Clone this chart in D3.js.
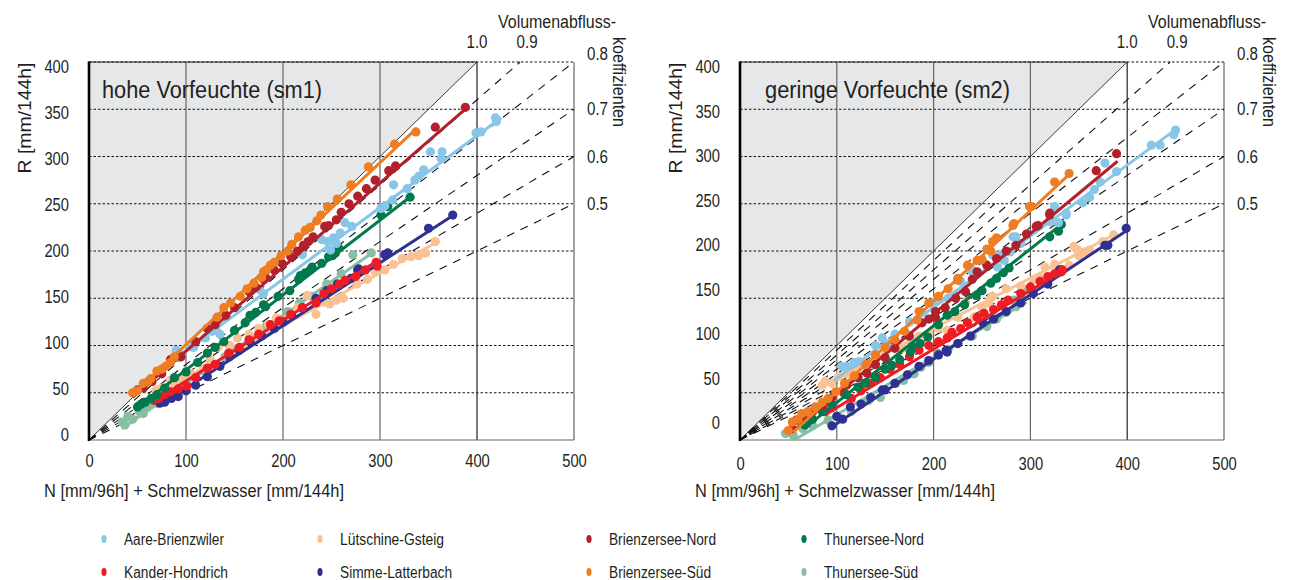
<!DOCTYPE html>
<html><head><meta charset="utf-8">
<script src="https://cdn.jsdelivr.net/npm/d3@7"></script>
<style>
body{margin:0;background:#fff}
text{font-family:"Liberation Sans Narrow","Arial Narrow","Liberation Sans",Arial,sans-serif;fill:#231f20}
</style>
</head><body>
<svg id="c" width="1295" height="580"></svg>
<script>
// ---------- categories / ticks ----------
const seriesNames = ["Aare-Brienzwiler","Lütschine-Gsteig","Brienzersee-Nord","Thunersee-Nord","Kander-Hondrich","Simme-Latterbach","Brienzersee-Süd","Thunersee-Süd"];
const seriesColors = ["#88c6e8","#f9c194","#b2202b","#007a4d","#ed1c24","#2e3192","#ef7d22","#86bfa1"];
const xTicks = [0,100,200,300,400,500];
const yTicks = [0,50,100,150,200,250,300,350,400];
const coefValues = [0.9,0.8,0.7,0.6,0.5];
const coefLabels = ["1.0","0.9","0.8","0.7","0.6","0.5"];
const coefExtraSm2 = [0.95,0.85,0.75,0.65,0.55];

// ---------- sm1: hohe Vorfeuchte  [N, R] ----------
const aareSm1 = [[90,95],[92,87],[96,90],[103,100],[108,98],[120,108],[127,115],[131,116],[135,112],[176,159],[180,155],[220,196],[240,212],[246,210],[249,201],[252,214],[255,208],[259,219],[264,230],[271,226],[301,245],[305,248],[313,254],[314,270],[328,266],[336,275],[340,279],[345,286],[352,305],[363,298],[364,305],[399,325],[404,326],[419,341],[420,337]];
const lutSm1 = [[69,53],[75,55],[84,63],[97,67],[105,70],[118,76],[125,85],[133,98],[145,100],[153,108],[165,112],[175,118],[185,122],[193,129],[205,128],[215,140],[225,153],[234,133],[242,146],[248,144],[255,148],[262,150],[276,165],[287,170],[295,178],[305,180],[314,186],[323,192],[332,194],[340,195],[347,198],[357,210]];
const bnSm1 = [[50,53],[56,55],[65,62],[75,70],[84,85],[95,88],[110,104],[122,118],[130,122],[141,132],[150,140],[165,157],[172,162],[180,170],[182,172],[191,180],[199,187],[208,194],[215,200],[221,206],[226,210],[231,215],[243,226],[247,227],[255,233],[260,241],[268,250],[277,258],[286,266],[295,275],[309,285],[316,290],[357,331],[388,352]];
const tnSm1 = [[50,35],[54,38],[58,40],[64,44],[70,48],[78,55],[88,66],[100,72],[112,82],[122,92],[130,98],[139,104],[150,116],[161,124],[166,132],[172,135],[180,143],[182,141],[195,152],[207,158],[216,170],[218,174],[223,177],[228,180],[230,183],[240,187],[247,194],[251,195],[254,198],[257,204],[301,238],[308,247],[331,257]];
const khSm1 = [[67,42],[72,44],[78,48],[84,51],[92,54],[101,57],[110,66],[122,76],[130,80],[144,92],[155,98],[165,106],[175,112],[187,122],[196,126],[208,133],[220,140],[234,145],[242,155],[250,160],[258,165],[264,169],[275,173],[285,180],[296,188],[297,184]];
const slSm1 = [[73,39],[78,40],[85,44],[92,46],[100,52],[110,58],[122,67],[135,78],[145,88],[155,95],[166,104],[178,110],[191,118],[200,125],[209,132],[220,140],[234,150],[245,158],[256,165],[270,171],[277,180],[278,181],[305,196],[308,198],[350,224],[375,238]];
const bsSm1 = [[45,50],[50,52],[56,60],[61,62],[64,65],[70,73],[75,75],[79,78],[84,82],[88,88],[132,130],[139,140],[146,145],[156,152],[163,160],[170,166],[178,172],[180,178],[183,180],[187,185],[191,188],[198,195],[205,200],[209,207],[216,215],[223,222],[228,225],[235,232],[239,238],[246,247],[256,255],[270,270],[288,289],[315,313],[337,326]];
const tsSm1 = [[34,19],[37,16],[40,25],[45,22],[52,30],[56,28],[60,35],[65,38],[72,42],[80,46],[92,50],[100,60],[110,66],[120,72],[130,80],[140,88],[150,96],[165,106],[175,113],[183,121],[195,128],[205,136],[217,145],[230,152],[245,165],[260,176],[272,196],[291,198]];
// fitted lines [N1,R1,N2,R2] in series order
const sm1Fits = [[88,85,425,341],[68,48,360,210],[45,45,390,352],[48,33,332,258],[65,40,298,190],[72,36,376,238],[44,47,338,330],[34,12,292,198]];

// ---------- sm2: geringe Vorfeuchte  [N, R] ----------
const aareSm2 = [[105,78],[111,78],[118,82],[123,83],[140,100],[147,108],[152,100],[160,112],[175,125],[188,135],[199,145],[204,150],[215,150],[228,168],[240,178],[240,180],[250,190],[261,196],[266,183],[268,196],[273,190],[279,199],[282,215],[285,215],[290,208],[320,231],[325,247],[329,230],[337,238],[337,240],[354,251],[361,257],[366,265],[372,273],[377,293],[389,284],[425,312],[434,312],[448,323],[450,328]];
const lutSm2 = [[85,58],[88,62],[95,60],[102,67],[110,70],[120,72],[135,80],[150,90],[165,98],[168,97],[176,105],[185,110],[195,112],[205,118],[214,116],[225,130],[233,146],[242,130],[250,140],[257,145],[259,150],[261,152],[275,160],[290,163],[304,170],[308,169],[309,172],[315,183],[325,186],[340,185],[345,205],[349,201],[350,195],[356,199],[361,201],[375,210],[386,217]];
const bnSm2 = [[54,12],[58,21],[65,25],[75,30],[86,37],[95,45],[110,58],[122,66],[131,71],[140,80],[150,87],[160,97],[175,110],[188,124],[195,128],[202,130],[202,136],[212,140],[223,150],[233,157],[240,170],[245,178],[255,185],[265,192],[275,200],[285,206],[296,218],[306,226],[308,227],[320,238],[320,240],[368,285],[389,303]];
const tnSm2 = [[67,16],[69,18],[75,22],[85,30],[95,38],[110,48],[122,56],[130,60],[140,66],[150,75],[157,79],[165,85],[176,93],[178,99],[186,102],[194,109],[205,122],[214,132],[222,136],[232,143],[244,153],[250,158],[259,166],[265,171],[272,177],[278,182],[320,215],[329,221],[332,228]];
const khSm2 = [[88,30],[95,34],[107,50],[115,44],[125,52],[135,60],[145,66],[155,75],[165,80],[175,88],[185,95],[195,100],[205,104],[214,108],[219,114],[228,118],[235,124],[245,130],[252,134],[262,138],[270,143],[277,148],[290,155],[300,162],[310,168],[318,173],[325,176],[332,178],[333,180]];
const slSm2 = [[95,15],[100,25],[106,22],[114,35],[125,38],[135,45],[147,53],[150,53],[160,60],[173,69],[185,78],[195,84],[205,90],[213,95],[214,93],[225,102],[238,110],[251,124],[262,128],[275,136],[290,145],[303,155],[318,165],[330,180],[332,180],[377,206],[380,206],[399,224]];
const bsSm2 = [[50,10],[54,19],[60,22],[64,28],[70,30],[78,35],[85,40],[91,44],[99,51],[108,60],[118,68],[130,80],[140,90],[150,98],[160,106],[170,115],[183,127],[185,136],[195,145],[205,152],[215,160],[225,169],[225,171],[235,185],[245,190],[250,191],[255,202],[259,200],[261,210],[265,214],[282,227],[283,229],[299,247],[301,247],[325,273],[340,282]];
const tsSm2 = [[47,7],[55,5],[65,12],[75,15],[91,21],[100,25],[115,30],[133,42],[145,45],[161,60],[169,63],[180,70],[187,77],[195,82],[204,92],[205,90],[215,96],[225,102],[240,110],[255,120],[265,128],[275,135],[283,148],[285,141],[290,150],[294,159]];
const sm2Fits = [[97,63,452,330],[85,57,388,218],[55,10,390,295],[66,12,333,229],[90,28,335,180],[92,12,400,222],[55,8,342,283],[56,0,296,146]];

const sm1Points = [aareSm1,lutSm1,bnSm1,tnSm1,khSm1,slSm1,bsSm1,tsSm1];
const sm2Points = [aareSm2,lutSm2,bnSm2,tnSm2,khSm2,slSm2,bsSm2,tsSm2];

// ---------- drawing ----------
const svg = d3.select("#c");
const drawOrder = [7,1,5,4,3,0,2,6];

const panels = [
  {x0:89, x1:574, title:"hohe Vorfeuchte (sm1)", titleX:102, titleLen:220, labelRange:[435,67], xLabelY:467, pts:sm1Points, fits:sm1Fits, extra:[]},
  {x0:740, x1:1224, title:"geringe Vorfeuchte (sm2)", titleX:765, titleLen:245, labelRange:[423,67], xLabelY:470, pts:sm2Points, fits:sm2Fits, extra:coefExtraSm2}
];

panels.forEach(p => {
  const x = d3.scaleLinear().domain([0,500]).range([p.x0,p.x1]);
  const y = d3.scaleLinear().domain([0,400]).range([440,62]);
  const g = svg.append("g");

  // gray region above 1:1 line
  g.append("path")
    .attr("d", d3.line()([[x(0),y(0)],[x(0),y(400)],[x(400),y(400)]]) + "Z")
    .attr("fill","#e6e7e8");

  // horizontal dotted gridlines
  g.selectAll(null).data(yTicks.filter(d=>d>0)).join("line")
    .attr("x1",x(0)).attr("x2",x(500))
    .attr("y1",d=>y(d)).attr("y2",d=>y(d))
    .attr("stroke","#111").attr("stroke-width",1).attr("stroke-dasharray","2.5,2");

  // vertical solid gridlines
  g.selectAll(null).data(xTicks.filter(d=>d>0)).join("line")
    .attr("x1",d=>x(d)).attr("x2",d=>x(d))
    .attr("y1",y(400)).attr("y2",y(0))
    .attr("stroke",d=>d===400?"#222":"#666").attr("stroke-width",1.2);

  // bottom border and top solid part
  g.append("line").attr("x1",x(0)).attr("x2",x(500)).attr("y1",y(0)).attr("y2",y(0))
    .attr("stroke","#666").attr("stroke-width",1.2);
  g.append("line").attr("x1",x(0)).attr("x2",x(400)).attr("y1",y(400)).attr("y2",y(400))
    .attr("stroke","#222").attr("stroke-width",1.2);

  // 1:1 line
  g.append("line").attr("x1",x(0)).attr("y1",y(0)).attr("x2",x(400)).attr("y2",y(400))
    .attr("stroke","#222").attr("stroke-width",0.9);

  // runoff coefficient dashed lines
  coefValues.forEach(c => {
    const end = c*500 <= 400 ? [500, c*500] : [400/c, 400];
    g.append("line").attr("x1",x(0)).attr("y1",y(0)).attr("x2",x(end[0])).attr("y2",y(end[1]))
      .attr("stroke","#111").attr("stroke-width",1.1).attr("stroke-dasharray","8,7");
  });
  // intermediate coefficient lines (only in lower part, right panel)
  p.extra.forEach(c => {
    const nEnd = Math.min(300, 250/c);
    g.append("line").attr("x1",x(0)).attr("y1",y(0)).attr("x2",x(nEnd)).attr("y2",y(c*nEnd))
      .attr("stroke","#111").attr("stroke-width",1.1).attr("stroke-dasharray","8,7").attr("stroke-dashoffset",4);
  });

  // series: points and fitted lines
  drawOrder.forEach(i => {
    const col = seriesColors[i];
    g.append("g").selectAll("circle").data(p.pts[i]).join("circle")
      .attr("cx",d=>x(d[0])).attr("cy",d=>y(d[1])).attr("r",4.6).attr("fill",col);
    const f = p.fits[i];
    g.append("line").attr("x1",x(f[0])).attr("y1",y(f[1])).attr("x2",x(f[2])).attr("y2",y(f[3]))
      .attr("stroke",col).attr("stroke-width",3);
  });

  // thick left axis line
  g.append("line").attr("x1",x(0)).attr("x2",x(0)).attr("y1",y(400)-0.5).attr("y2",y(0)+1)
    .attr("stroke","#000").attr("stroke-width",2.6);

  // y tick labels (own label scale, as in original)
  const yl = d3.scaleLinear().domain([0,400]).range(p.labelRange);
  const ya = g.append("g").attr("transform",`translate(${x(0)-20},0)`)
    .call(d3.axisLeft(yl).tickValues(yTicks).tickSize(0).tickPadding(0).tickFormat(d3.format("d")));
  ya.select(".domain").remove();
  ya.selectAll("text").attr("font-size",18).attr("font-family",null).attr("fill","#231f20")
    .attr("textLength",function(){return this.textContent.length*8.2;}).attr("lengthAdjust","spacingAndGlyphs");

  // x tick labels
  const xa = g.append("g").attr("transform",`translate(0,${p.xLabelY})`)
    .call(d3.axisBottom(x).tickValues(xTicks).tickSize(0).tickPadding(0).tickFormat(d3.format("d")));
  xa.select(".domain").remove();
  xa.selectAll("text").attr("y",0).attr("dy",0).attr("font-size",18).attr("font-family",null).attr("fill","#231f20")
    .attr("textLength",function(){return this.textContent.length*8.2;}).attr("lengthAdjust","spacingAndGlyphs");

  // axis titles
  g.append("text").attr("transform",`translate(${x(0)-58},118) rotate(-90)`).attr("text-anchor","middle")
    .attr("font-size",19).attr("textLength",111).attr("lengthAdjust","spacingAndGlyphs").text("R [mm/144h]");
  g.append("text").attr("x",x(0)-45).attr("y",497).attr("font-size",18)
    .attr("textLength",300).attr("lengthAdjust","spacingAndGlyphs").text("N [mm/96h] + Schmelzwasser [mm/144h]");

  // panel title
  g.append("text").attr("x",p.titleX).attr("y",98).attr("font-size",23)
    .attr("textLength",p.titleLen).attr("lengthAdjust","spacingAndGlyphs").text(p.title);

  // coefficient labels
  const allCoefs = [1.0].concat(coefValues);
  allCoefs.forEach((c,k) => {
    const lab = coefLabels[k];
    let tx, ty, anchor;
    if (c*500 > 400) { tx = x(400/c) + (c<1?7:0); ty = 48; anchor = "middle"; }
    else { tx = x(500)+13; ty = (c*500 >= 400) ? 60 : y(c*500)+6; anchor = "start"; }
    g.append("text").attr("x",tx).attr("y",ty).attr("text-anchor",anchor).attr("font-size",18)
      .attr("textLength",21).attr("lengthAdjust","spacingAndGlyphs").text(lab);
  });
  g.append("text").attr("x",x(500)-76).attr("y",28).attr("font-size",18)
    .attr("textLength",118).attr("lengthAdjust","spacingAndGlyphs").text("Volumenabfluss-");
  g.append("text").attr("transform",`translate(${x(500)+39},37) rotate(90)`).attr("font-size",18)
    .attr("textLength",90).attr("lengthAdjust","spacingAndGlyphs").text("koeffizienten");
});

// ---------- legend ----------
const legendOrder = [[0,1,2,3],[4,5,6,7]];
const legendMarkX = [104,320,589,804];
const legendRowY = [539,572];
const legendTextLen = [100,104,107,100,104,112,102,94];
legendOrder.forEach((row,r) => {
  row.forEach((si,c) => {
    svg.append("ellipse").attr("cx",legendMarkX[c]).attr("cy",legendRowY[r]).attr("rx",2.6).attr("ry",4)
      .attr("fill",seriesColors[si]);
    svg.append("text").attr("x",legendMarkX[c]+20).attr("y",legendRowY[r]+6).attr("font-size",16)
      .attr("textLength",legendTextLen[si]).attr("lengthAdjust","spacingAndGlyphs").text(seriesNames[si]);
  });
});
</script>
</body></html>
